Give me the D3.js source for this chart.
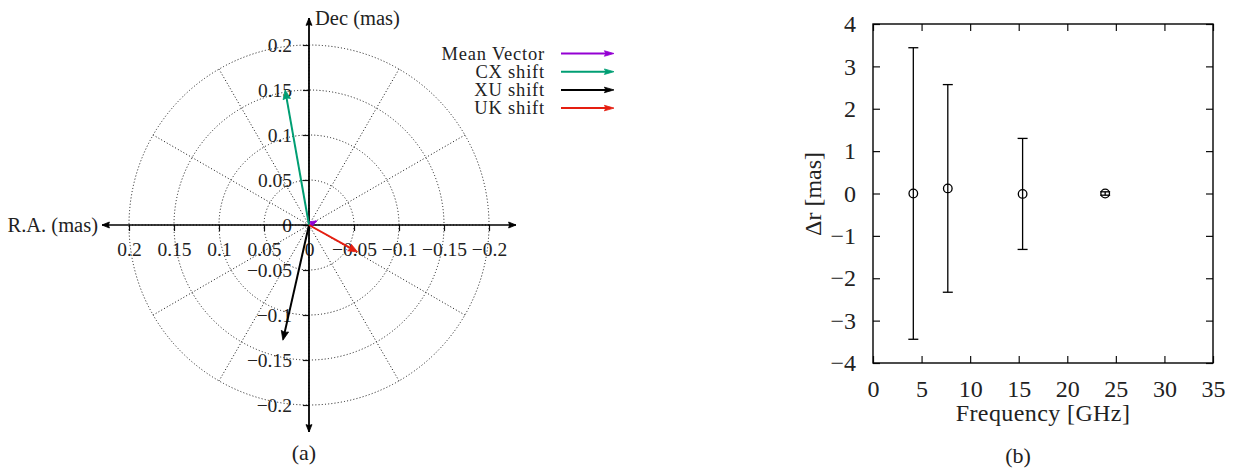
<!DOCTYPE html>
<html><head><meta charset="utf-8">
<script src="https://cdn.jsdelivr.net/npm/d3@7"></script>
<style>
html,body{margin:0;padding:0;background:#fff;}
svg text{font-family:"Liberation Serif","Times New Roman",serif;fill:#222;}
</style></head>
<body>
<svg id="c" width="1233" height="472"></svg>
<script>
// ---- Data: panel (a) vector shifts (R.A., Dec in mas)
const vecNames = ["Mean Vector","CX shift","XU shift","UK shift"];
const vecRA    = [-0.0085, 0.0265, 0.029, -0.054];
const vecDec   = [0.0045, 0.150, -0.128, -0.030];
const vecColors= ["#9400d3","#009e73","#000000","#e51e10"];
const polarTicks = [0.2,0.15,0.1,0.05,0,-0.05,-0.1,-0.15,-0.2];
const polarTickLabels = ["0.2","0.15","0.1","0.05","0","\u22120.05","\u22120.1","\u22120.15","\u22120.2"];
const ringRadii = [0.05,0.1,0.15,0.2];
const spokeAngles = [0,30,60,90,120,150,180,210,240,270,300,330];

// ---- Data: panel (b) offsets vs frequency
const freq   = [4.15, 7.7, 15.4, 23.9];
const dr     = [0.0, 0.12, -0.01, 0.0];
const drErr  = [3.44, 2.45, 1.31, 0.04];
const xTicksB = [0,5,10,15,20,25,30,35];
const yTicksB = [-4,-3,-2,-1,0,1,2,3,4];
const yTickLabelsB = ["\u22124","\u22123","\u22122","\u22121","0","1","2","3","4"];

const svg = d3.select("#c");
const ink = "#222";

function arrowHead(g, x1,y1,x2,y2,color,L,ang){
  const a = Math.atan2(y2-y1,x2-x1);
  const h = ang*Math.PI/180;
  const p1=[x2-L*Math.cos(a-h), y2-L*Math.sin(a-h)];
  const p2=[x2-L*Math.cos(a+h), y2-L*Math.sin(a+h)];
  const pb=[x2-L*0.8*Math.cos(a), y2-L*0.8*Math.sin(a)];
  g.append("path").attr("d",`M${x2},${y2}L${p1[0]},${p1[1]}L${pb[0]},${pb[1]}L${p2[0]},${p2[1]}Z`)
    .attr("fill",color).attr("stroke",color).attr("stroke-width",0.8);
}

// ================= Panel (a)
const ga = svg.append("g");
const xa = d3.scaleLinear().domain([0.23,-0.23]).range([102,516]);
const ya = d3.scaleLinear().domain([-0.23,0.23]).range([432,18]);
const cx = xa(0), cy = ya(0);

// rings
ga.selectAll("circle.ring").data(ringRadii).enter().append("circle")
  .attr("cx",cx).attr("cy",cy).attr("r",d=>(xa(0)-xa(d)))
  .attr("fill","none").attr("stroke","#111").attr("stroke-width",1).attr("stroke-dasharray","1,2.2");
// spokes
const rMax = xa(0)-xa(0.2);
ga.selectAll("line.spoke").data(spokeAngles).enter().append("line")
  .attr("x1",cx).attr("y1",cy)
  .attr("x2",d=>cx+rMax*Math.cos(d*Math.PI/180))
  .attr("y2",d=>cy-rMax*Math.sin(d*Math.PI/180))
  .attr("stroke","#111").attr("stroke-width",1).attr("stroke-dasharray","1,2.2");

// axes
const axX = d3.axisBottom(xa).tickValues(polarTicks).tickFormat((d,i)=>polarTickLabels[i]).tickSize(6).tickPadding(11);
const gx = ga.append("g").attr("transform",`translate(0,${cy})`).call(axX);
gx.select(".domain").remove();
gx.selectAll("line").attr("stroke","#111").attr("stroke-width",1.2);
gx.selectAll("text").style("font-size","19.5px").attr("fill",ink);

const axY = d3.axisLeft(ya).tickValues(polarTicks).tickFormat((d,i)=>polarTickLabels[i]).tickSize(6).tickPadding(11);
const gy = ga.append("g").attr("transform",`translate(${cx},0)`).call(axY);
gy.select(".domain").remove();
gy.selectAll("line").attr("stroke","#111").attr("stroke-width",1.2);
gy.selectAll("text").style("font-size","19.5px").attr("fill",ink);

// axis lines with arrows
ga.append("line").attr("x1",xa(0.23)).attr("x2",xa(-0.23)).attr("y1",cy).attr("y2",cy).attr("stroke","#000").attr("stroke-width",1.4);
ga.append("line").attr("y1",ya(0.23)).attr("y2",ya(-0.23)).attr("x1",cx).attr("x2",cx).attr("stroke","#000").attr("stroke-width",1.8);
arrowHead(ga, cx,cy, xa(0.23),cy, "#000", 8, 22);
arrowHead(ga, cx,cy, xa(-0.23),cy, "#000", 8, 22);
arrowHead(ga, cx,cy, cx,ya(0.23), "#000", 8, 22);
arrowHead(ga, cx,cy, cx,ya(-0.23), "#000", 8, 22);

ga.append("text").attr("x",98).attr("y",cy).attr("dy","0.33em").attr("text-anchor","end")
  .style("font-size","20.5px").text("R.A. (mas)");
ga.append("text").attr("x",315).attr("y",ya(0.23)).attr("dy","0.33em").attr("text-anchor","start")
  .style("font-size","20.5px").text("Dec (mas)");

// vectors
vecNames.forEach((n,i)=>{
  const x2=xa(vecRA[i]), y2=ya(vecDec[i]);
  const a=Math.atan2(y2-cy,x2-cx);
  const len=Math.hypot(x2-cx,y2-cy);
  const L=Math.min(10, len*0.85);
  if(len>12){
    ga.append("line").attr("x1",cx).attr("y1",cy)
      .attr("x2",x2-0.7*L*Math.cos(a)).attr("y2",y2-0.7*L*Math.sin(a))
      .attr("stroke",vecColors[i]).attr("stroke-width",2);
  } else {
    ga.append("line").attr("x1",cx).attr("y1",cy)
      .attr("x2",x2).attr("y2",y2)
      .attr("stroke",vecColors[i]).attr("stroke-width",1.6);
  }
  arrowHead(ga,cx,cy,x2,y2,vecColors[i],L,22);
});

// legend
const legY0 = 53.5, legDy = 18.2;
vecNames.forEach((n,i)=>{
  const y=legY0+i*legDy;
  ga.append("text").attr("x",545).attr("y",y).attr("dy","0.33em").attr("text-anchor","end")
    .style("font-size","18.5px").style("letter-spacing","0.8px").text(n);
  ga.append("line").attr("x1",561).attr("x2",606).attr("y1",y).attr("y2",y)
    .attr("stroke",vecColors[i]).attr("stroke-width",2);
  arrowHead(ga,561,y,614,y,vecColors[i],10,16);
});

ga.append("text").attr("x",304).attr("y",460).attr("text-anchor","middle").style("font-size","22px").text("(a)");

// ================= Panel (b)
const gb = svg.append("g");
const xb = d3.scaleLinear().domain([0,35]).range([873,1213]);
const yb = d3.scaleLinear().domain([-4,4]).range([363,24]);
const T=7;

// ticks (inside, mirrored)
const gbx = gb.append("g").attr("transform",`translate(0,${yb(-4)})`)
  .call(d3.axisBottom(xb).tickValues(xTicksB).tickSize(-T).tickPadding(17).tickFormat(d3.format("d")));
gbx.select(".domain").remove();
const gbx2 = gb.append("g").attr("transform",`translate(0,${yb(4)})`)
  .call(d3.axisTop(xb).tickValues(xTicksB).tickSize(-T).tickFormat(""));
gbx2.select(".domain").remove();
const gby = gb.append("g").attr("transform",`translate(${xb(0)},0)`)
  .call(d3.axisLeft(yb).tickValues(yTicksB).tickSize(-T).tickPadding(17).tickFormat((d,i)=>yTickLabelsB[i]));
gby.select(".domain").remove();
const gby2 = gb.append("g").attr("transform",`translate(${xb(35)},0)`)
  .call(d3.axisRight(yb).tickValues(yTicksB).tickSize(-T).tickFormat(""));
gby2.select(".domain").remove();
gb.selectAll(".tick line").attr("stroke","#111").attr("stroke-width",1.2);
gb.selectAll(".tick text").style("font-size","24px").attr("fill",ink);
gb.append("rect").attr("x",xb(0)).attr("y",yb(4)).attr("width",xb(35)-xb(0)).attr("height",yb(-4)-yb(4))
  .attr("fill","none").attr("stroke","#000").attr("stroke-width",1.4);

// error bars
const cap=5;
freq.forEach((f,i)=>{
  const X=xb(f), yt=yb(dr[i]+drErr[i]), ybo=yb(dr[i]-drErr[i]);
  gb.append("line").attr("x1",X).attr("x2",X).attr("y1",yt).attr("y2",ybo).attr("stroke","#000").attr("stroke-width",1.3);
  gb.append("line").attr("x1",X-cap).attr("x2",X+cap).attr("y1",yt).attr("y2",yt).attr("stroke","#000").attr("stroke-width",1.3);
  gb.append("line").attr("x1",X-cap).attr("x2",X+cap).attr("y1",ybo).attr("y2",ybo).attr("stroke","#000").attr("stroke-width",1.3);
});
gb.selectAll("circle.pt").data(freq).enter().append("circle")
  .attr("cx",d=>xb(d)).attr("cy",(d,i)=>yb(dr[i])).attr("r",4.3)
  .attr("fill","none").attr("stroke","#000").attr("stroke-width",1.3);

gb.append("text").attr("x",1043).attr("y",421).attr("text-anchor","middle").style("font-size","24px")
  .style("letter-spacing","0.4px").text("Frequency [GHz]");
gb.append("text").attr("transform","translate(821,194) rotate(-90)").attr("text-anchor","middle")
  .style("font-size","24px").text("\u0394r [mas]");
gb.append("text").attr("x",1018).attr("y",463).attr("text-anchor","middle").style("font-size","22px").text("(b)");
</script>
</body></html>
